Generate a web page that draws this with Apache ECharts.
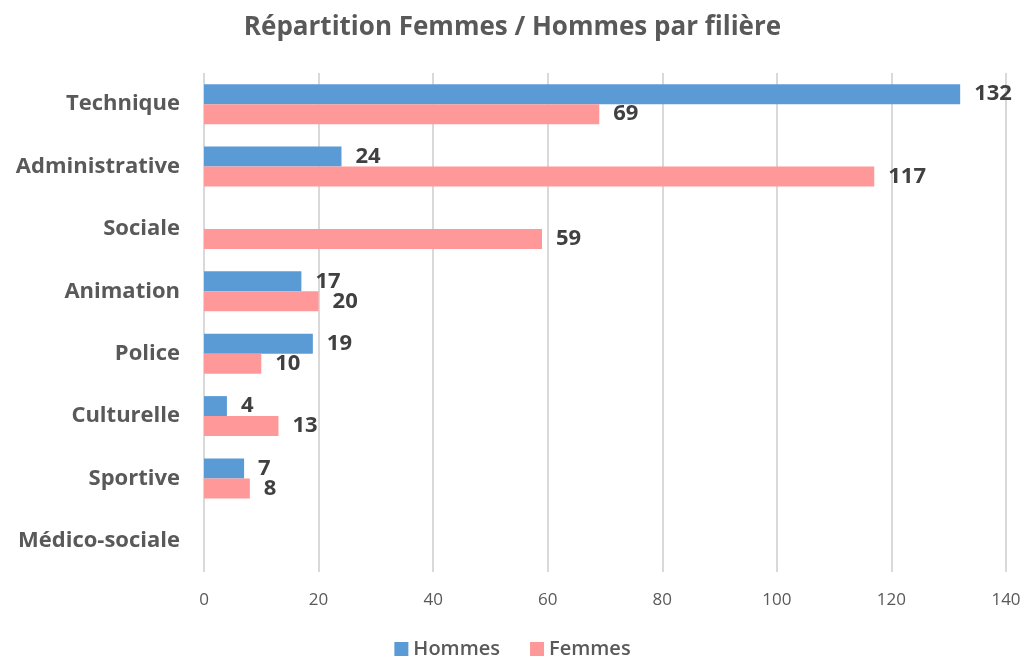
<!DOCTYPE html>
<html>
<head>
<meta charset="utf-8">
<script src="https://cdn.jsdelivr.net/npm/echarts@6/dist/echarts.min.js"></script>
<style>
  html, body { margin: 0; padding: 0; background: #fff; }
  #main { width: 1025px; height: 657px; }
</style>
</head>
<body>
<div id="main"></div>
<script>
const categories = ['Technique', 'Administrative', 'Sociale', 'Animation', 'Police', 'Culturelle', 'Sportive', 'Médico-sociale']
const hommes = [132, 24, null, 17, 19, 4, 7, null]
const femmes = [69, 117, 59, 20, 10, 13, 8, null]

const font = '"Open Sans", "Liberation Sans", sans-serif'
const myChart = echarts.init(document.querySelector('#main'))

const labelStyle = {
  show: true,
  position: 'right',
  distance: 14,
  fontFamily: font,
  fontSize: 22,
  fontWeight: 'bold',
  color: '#404040'
}

myChart.setOption({
  animation: false,
  textStyle: { fontFamily: font },
  title: {
    text: 'Répartition Femmes / Hommes par filière',
    left: 'center',
    top: 10,
    textStyle: { fontFamily: font, fontSize: 26, fontWeight: 'bold', color: '#595959' }
  },
  legend: {
    top: 634,
    left: 'center',
    itemWidth: 14,
    itemHeight: 14,
    itemGap: 30,
    icon: 'rect',
    textStyle: { fontFamily: font, fontSize: 20, fontWeight: 600, color: '#595959' },
    data: ['Hommes', 'Femmes']
  },
  grid: { left: 204, right: 19, top: 73, bottom: 85, containLabel: false },
  xAxis: {
    type: 'value',
    min: 0,
    max: 140,
    interval: 20,
    axisLine: { show: false },
    axisTick: { show: false },
    splitLine: { lineStyle: { color: '#d9d9d9', width: 2 } },
    axisLabel: { fontFamily: font, fontSize: 17, color: '#595959', margin: 20 }
  },
  yAxis: {
    type: 'category',
    data: categories,
    inverse: true,
    axisLine: { show: false },
    axisTick: { show: false },
    axisLabel: { fontFamily: font, fontSize: 22, fontWeight: 'bold', color: '#595959', margin: 24 }
  },
  series: [
    {
      name: 'Hommes',
      type: 'bar',
      data: hommes,
      barGap: '0%',
      barCategoryGap: '36%',
      itemStyle: { color: '#5B9BD5' },
      label: labelStyle
    },
    {
      name: 'Femmes',
      type: 'bar',
      data: femmes,
      itemStyle: { color: '#FF9999' },
      label: labelStyle
    }
  ]
})
</script>
</body>
</html>
